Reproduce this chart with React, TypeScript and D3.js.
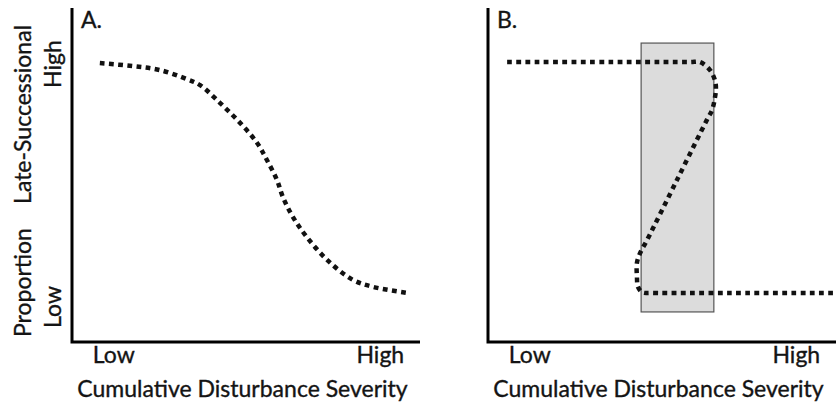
import React from "react";
import * as d3 from "d3";

// panel A: proportion of late-successional vs cumulative disturbance severity
const curveA: [number, number][] = [
  [8.0, 83.5], [17.5, 82.6], [25.3, 81.4], [33.0, 78.7], [36.8, 76.9],
  [42.5, 71.6], [48.3, 65.6], [53.2, 59.6], [56.0, 54.5], [58.9, 48.5],
  [60.6, 43.4], [63.5, 37.4], [67.5, 31.4], [73.3, 24.6], [80.7, 18.6],
  [86.5, 16.5], [96.3, 14.7],
];

// panel B: hysteresis (folded) curve
const curveB: [number, number][] = [
  [5.5, 83.8], [40, 83.8], [58, 83.8], [60.9, 83.8], [63.8, 81.4],
  [65.2, 78.4], [65.5, 76.0], [65.2, 73.1], [64.4, 69.5], [62.9, 66.5],
  [54.3, 48.5], [45.7, 30.5], [43.7, 26.6], [42.8, 23.7], [42.8, 19.5],
  [43.1, 16.5], [44.3, 14.9], [47, 14.7], [70, 14.7], [100, 14.7],
];

// shaded region in panel B (x0, x1, y0, y1)
const bistableX = [44.0, 64.9];
const bistableY = [9.0, 89.5];

const xTicks = [
  { value: 12, label: "Low" },
  { value: 88.6, label: "High" },
];
const yTicks = [
  { value: 10.5, label: "Low" },
  { value: 83.2, label: "High" },
];
const panelLabels = ["A.", "B."];
const xTitle = "Cumulative Disturbance Severity";
const yTitleParts = ["Proportion", "Late-Successional"];

const W = 836;
const H = 404;
const top = 8;
const bottom = 342;
const font = "Lato, 'Open Sans', sans-serif";
const ink = "#141414";
const fs = 23;
const textStyle = {
  fontSize: fs,
  fill: ink,
  fontFamily: font,
  stroke: ink,
  strokeWidth: 0.35,
};

const Panel = ({
  left,
  right,
  label,
  data,
  shade,
}: {
  left: number;
  right: number;
  label: string;
  data: [number, number][];
  shade?: boolean;
}) => {
  const x = d3.scaleLinear().domain([0, 100]).range([left, right]);
  const y = d3.scaleLinear().domain([0, 100]).range([bottom, top]);
  const line = d3
    .line<[number, number]>()
    .x((d) => x(d[0]))
    .y((d) => y(d[1]))
    .curve(d3.curveCatmullRom.alpha(0.5));

  return (
    <g>
      {shade && (
        <rect
          x={x(bistableX[0])}
          y={y(bistableY[1])}
          width={x(bistableX[1]) - x(bistableX[0])}
          height={y(bistableY[0]) - y(bistableY[1])}
          fill="#dcdcdc"
          stroke="#555"
          strokeWidth={1.2}
        />
      )}
      <path
        d={line(data) || ""}
        fill="none"
        stroke="#111"
        strokeWidth={4.5}
        strokeDasharray="4.8 4.4"
      />
      <path
        d={`M${left},${top}V${bottom}H${right}`}
        fill="none"
        stroke="#000"
        strokeWidth={3}
      />
      <text x={left + 9} y={28} style={textStyle}>
        {label}
      </text>
      {xTicks.map((t) => (
        <text key={t.label} x={x(t.value)} y={363} textAnchor="middle" style={textStyle}>
          {t.label}
        </text>
      ))}
      <text x={x(49)} y={397} textAnchor="middle" style={textStyle}>
        {xTitle}
      </text>
    </g>
  );
};

export default function App() {
  const yA = d3.scaleLinear().domain([0, 100]).range([bottom, top]);
  return (
    <svg
      width={W}
      height={H}
      style={{ position: "absolute", left: 0, top: 0, background: "#fff" }}
    >
      <Panel left={72} right={420} label={panelLabels[0]} data={curveA} />
      <Panel left={488} right={836} label={panelLabels[1]} data={curveB} shade />
      {/* y axis title, rotated */}
      <text transform={`translate(31,337) rotate(-90)`} style={textStyle}>
        {yTitleParts[0]}
      </text>
      <text transform={`translate(31,25) rotate(-90)`} textAnchor="end" style={textStyle}>
        {yTitleParts[1]}
      </text>
      {yTicks.map((t) => (
        <text
          key={t.label}
          transform={`translate(61,${yA(t.value)}) rotate(-90)`}
          textAnchor="middle"
          style={textStyle}
        >
          {t.label}
        </text>
      ))}
    </svg>
  );
}
